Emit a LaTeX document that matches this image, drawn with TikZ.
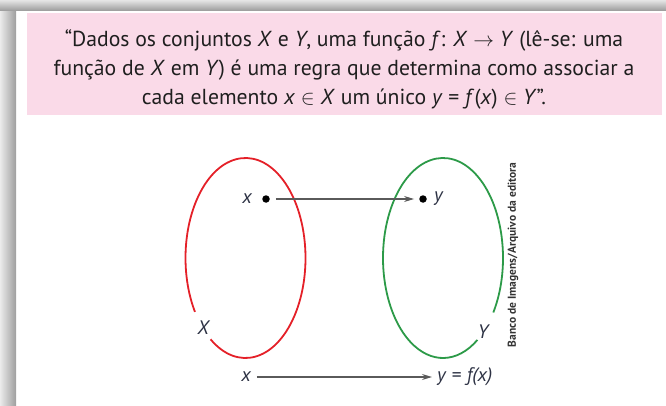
\documentclass[tikz,border=0pt]{standalone}
\usepackage{fontspec}
\setmainfont{PT Sans}
\usetikzlibrary{arrows.meta,positioning,calc}
\definecolor{boxpink}{RGB}{250,218,232}
\definecolor{setred}{RGB}{228,32,40}
\definecolor{setgreen}{RGB}{44,154,72}
\definecolor{arrowgray}{RGB}{90,90,90}
\definecolor{labelink}{RGB}{45,50,68}

\begin{document}
\begin{tikzpicture}[x=1pt,y=1pt,>={Stealth[length=10pt,width=6pt]},
  lbl/.style={font=\fontsize{19.5}{19.5}\selectfont\itshape,text=labelink,inner sep=1pt},
  dotpt/.style={circle,fill=black,inner sep=0pt,minimum size=7.5pt},
  maparrow/.style={->,arrowgray,line width=1.2pt},
  setline/.style={line width=1.8pt}]
  \useasboundingbox (0,0) rectangle (666,405);
  % page shadow
  \shade[left color=black!8,right color=black!38] (0,0) rectangle (16,405);
  \shade[top color=black!10,bottom color=black!40] (0,394) rectangle (666,405);
  % definition box
  \fill[boxpink] (27,290) rectangle (662,392);
  \node[align=center,text=black!88,font=\fontsize{21.7}{29}\selectfont] (quote) at (344,336)
    {“Dados os conjuntos \textit{X} e \textit{Y}, uma função \textit{f}: \textit{X} $\rightarrow$ \textit{Y} (lê-se: uma\\
     função de \textit{X} em \textit{Y}) é uma regra que determina como associar a\\
     cada elemento \textit{x} $\in$ \textit{X} um único \textit{y} = \textit{f}(\textit{x}) $\in$ \textit{Y}”.};
  % the two sets
  \coordinate (cX) at (245.5,147);
  \coordinate (cY) at (443,147);
  \draw[setline,setred] (cX) ++(234.4:60 and 100) arc[start angle=234.4,end angle=572.6,x radius=60,y radius=100];
  \draw[setline,setgreen] (cY) ++(-33:60 and 100) arc[start angle=-33,end angle=305,x radius=60,y radius=100];
  \node[lbl] (setX) at (203,77) {X};
  \node[lbl] (setY) at (483,73) {Y};
  % elements
  \node[dotpt] (px) at (266,206) {};
  \node[lbl,left=9pt of px] (lx) {x};
  \node[dotpt] (py) at (423,206) {};
  \node[lbl,right=6pt of py] (ly) {y};
  \draw[maparrow,shorten <=6pt,shorten >=5pt] (px) -- (py);
  % rule
  \node[lbl] (bx) at (246,28) {x};
  \node[lbl,anchor=west] (bfx) at (436,28) {y \textup{=} f(x)};
  \draw[maparrow,shorten <=5pt,shorten >=4pt] (bx) -- (bfx);
  % credit
  \node[rotate=90,text=black!80,font=\fontsize{11.5}{11.5}\selectfont\bfseries] (credit) at (513,150) {Banco de Imagens/Arquivo da editora};
\end{tikzpicture}
\end{document}
